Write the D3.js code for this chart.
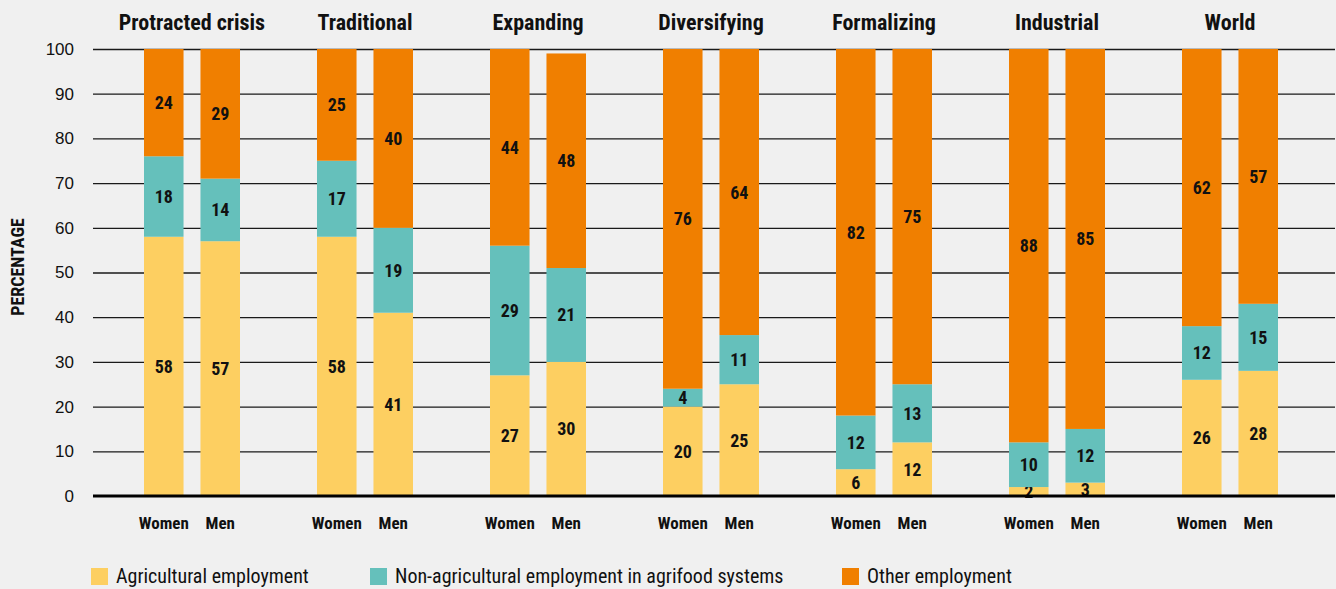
<!DOCTYPE html>
<html><head><meta charset="utf-8">
<script src="https://cdn.jsdelivr.net/npm/d3@7"></script>
<style>
html,body{margin:0;padding:0;background:#f0f0f0;}
svg{display:block;font-family:"Roboto",sans-serif;font-stretch:condensed;}
svg text{font-stretch:condensed;}
</style></head><body>
<svg id="chart" width="1336" height="589"></svg>
<script>
const categories = ["Protracted crisis","Traditional","Expanding","Diversifying","Formalizing","Industrial","World"];
const sexes = ["Women","Men"];
const seriesNames = ["Agricultural employment","Non-agricultural employment in agrifood systems","Other employment"];
const agriculturalWomen = [58,58,27,20,6,2,26];
const agriculturalMen   = [57,41,30,25,12,3,28];
const nonAgriWomen      = [18,17,29,4,12,10,12];
const nonAgriMen        = [14,19,21,11,13,12,15];
const otherWomen        = [24,25,44,76,82,88,62];
const otherMen          = [29,40,48,64,75,85,57];
const yTicks = [0,10,20,30,40,50,60,70,80,90,100];
const colors = ["#fdcf61","#65c0bb","#f07f00"];

const rows = [];
categories.forEach((c,i)=>{
  rows.push({cat:c, sex:"Women", a:agriculturalWomen[i], n:nonAgriWomen[i], o:otherWomen[i]});
  rows.push({cat:c, sex:"Men", a:agriculturalMen[i], n:nonAgriMen[i], o:otherMen[i]});
});
const stacked = d3.stack().keys(["a","n","o"])(rows);

const svg = d3.select("#chart");
const plotL = 93, plotR = 1335;
const y = d3.scaleLinear().domain([0,100]).range([496,49]);
const x0 = d3.scaleBand().domain(categories).range([105.5,1316.5]);
const x1 = d3.scaleBand().domain(sexes).range([-48,48]).paddingInner(0.3);
const cx = c => x0(c) + x0.bandwidth()/2;

// gridlines
const grid = svg.append("g").attr("transform",`translate(${plotL},0)`)
  .call(d3.axisLeft(y).tickValues(yTicks.filter(t=>t>0)).tickSize(-(plotR-plotL)).tickFormat(""));
grid.select(".domain").remove();
grid.selectAll("line").attr("stroke","#1a1a1a").attr("stroke-width",1.3);

// y axis labels
const ya = svg.append("g").attr("transform",`translate(${plotL},0)`)
  .call(d3.axisLeft(y).tickValues(yTicks).tickSize(0).tickPadding(19));
ya.select(".domain").remove();
ya.selectAll("text").attr("font-size",17).attr("fill","#111").attr("font-family","inherit");

svg.append("text").attr("transform","translate(24,267) rotate(-90)")
  .attr("text-anchor","middle").attr("font-size",18).attr("font-weight","bold").attr("fill","#111")
  .text("PERCENTAGE");

// bars
const xPos = d => cx(d.data.cat) + x1(d.data.sex);
stacked.forEach((s,si)=>{
  const g = svg.append("g");
  g.selectAll("rect").data(s).join("rect")
    .attr("x", xPos).attr("width", x1.bandwidth())
    .attr("y", d=>y(d[1])).attr("height", d=>y(d[0])-y(d[1]))
    .attr("fill", colors[si]);
  g.selectAll("text").data(s).join("text")
    .attr("x", d=>xPos(d)+x1.bandwidth()/2)
    .attr("y", d=>(y(d[0])+y(d[1]))/2)
    .attr("dy","0.36em")
    .attr("text-anchor","middle").attr("font-size",18).attr("font-weight","bold").attr("fill","#111")
    .text(d=>d[1]-d[0]);
});

// baseline
svg.append("line").attr("x1",plotL).attr("x2",plotR).attr("y1",y(0)).attr("y2",y(0))
  .attr("stroke","#000").attr("stroke-width",3);

// category titles
svg.append("g").selectAll("text").data(categories).join("text")
  .attr("x", c=>cx(c)).attr("y",30)
  .attr("text-anchor","middle").attr("font-size",22).attr("font-weight","bold").attr("fill","#111")
  .text(c=>c);

// sex labels
svg.append("g").selectAll("text").data(rows).join("text")
  .attr("x", d=>cx(d.cat)+x1(d.sex)+x1.bandwidth()/2).attr("y",529)
  .attr("text-anchor","middle").attr("font-size",17).attr("font-weight","bold").attr("fill","#111")
  .text(d=>d.sex);

// legend
const legX = [91,370,842];
const leg = svg.append("g").selectAll("g").data(seriesNames).join("g")
  .attr("transform",(d,i)=>`translate(${legX[i]},568)`);
leg.append("rect").attr("width",17).attr("height",17).attr("fill",(d,i)=>colors[i]);
leg.append("text").attr("x",25).attr("y",15).attr("font-size",20).attr("fill","#111").text(d=>d);
</script>
</body></html>
